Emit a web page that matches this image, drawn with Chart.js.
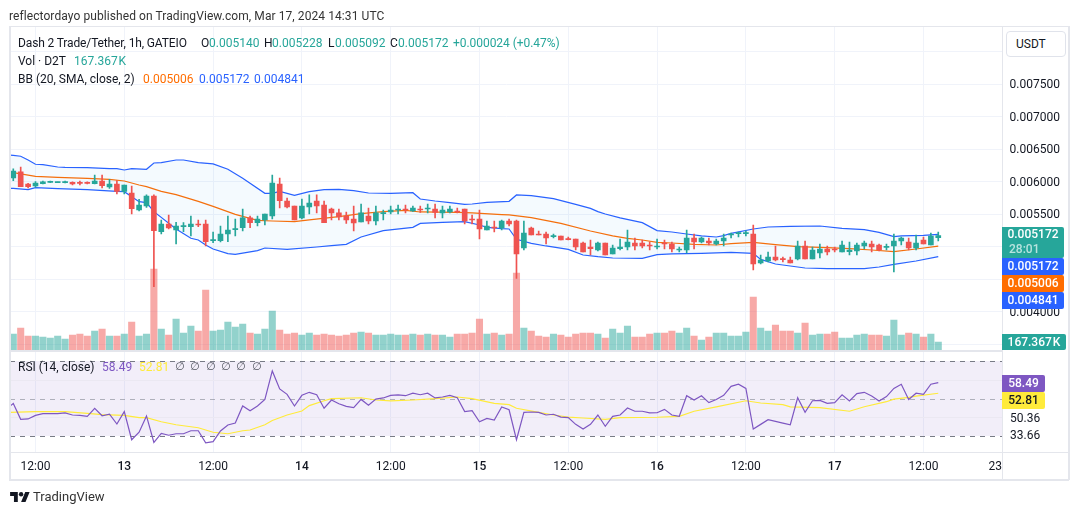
<!DOCTYPE html>
<html>
<head>
<meta charset="utf-8">
<title>Dash 2 Trade/Tether</title>
<script src="https://cdn.jsdelivr.net/npm/chart.js@4"></script>
<style>
  html, body { margin: 0; padding: 0; background: #fff; width: 1080px; height: 515px; overflow: hidden; }
  body { font-family: Roboto, sans-serif; font-size: 12px; color: #131722; position: relative; }
  canvas { position: absolute; left: 0; top: 0; }
  .t { position: absolute; white-space: nowrap; line-height: 14px; }
  .g { color: #26a69a; }
  .n { font-family: "DejaVu Sans", sans-serif; font-size: 11px; color: #50535e; }
  .line { position: absolute; background: #e4e6ec; }
  .tag { position: absolute; left: 1002px; width: 62px; color: #fff; text-align: center; border-radius: 0 2px 2px 0; font-weight: 500; }
</style>
</head>
<body>
<canvas id="chart" width="1080" height="515"></canvas>

<div class="line" style="left:9px;top:26px;width:1060px;height:1px"></div>
<div class="line" style="left:9px;top:479px;width:1060px;height:2px"></div>
<div class="line" style="left:9px;top:26px;width:2px;height:454px"></div>
<div class="line" style="left:1068px;top:26px;width:2px;height:454px"></div>
<div class="line" style="left:10px;top:350px;width:992px;height:2px"></div>
<div class="line" style="left:10px;top:452px;width:1058px;height:1px"></div>
<div class="line" style="left:1002px;top:27px;width:1px;height:452px"></div>

<div class="t" style="left:9px;top:9px;color:#333;letter-spacing:.08px">reflectordayo published on TradingView.com, Mar 17, 2024 14:31 UTC</div>

<div class="t" style="left:18px;top:36px;letter-spacing:-.13px">Dash 2 Trade/Tether, 1h, GATEIO</div>
<div class="t" style="left:201px;top:36px">O</div><div class="t g" style="left:209px;top:36px">0.005140</div>
<div class="t" style="left:264px;top:36px">H</div><div class="t g" style="left:272px;top:36px">0.005228</div>
<div class="t" style="left:328px;top:36px">L</div><div class="t g" style="left:335px;top:36px">0.005092</div>
<div class="t" style="left:390px;top:36px">C</div><div class="t g" style="left:398px;top:36px">0.005172</div>
<div class="t g" style="left:453px;top:36px;letter-spacing:-.05px">+0.000024 (+0.47%)</div>
<div class="t" style="left:18px;top:54px">Vol · D2T</div><div class="t g" style="left:74px;top:54px;word-spacing:-2px">167.367 K</div>
<div class="t" style="left:18px;top:72px">BB (20, SMA, close, 2)</div>
<div class="t" style="left:143px;top:72px;color:#ff6d00">0.005006</div>
<div class="t" style="left:199px;top:72px;color:#2962ff">0.005172</div>
<div class="t" style="left:254px;top:72px;color:#2962ff">0.004841</div>

<div class="t" style="left:18px;top:360px">RSI (14, close)</div>
<div class="t" style="left:102px;top:360px;color:#7e57c2">58.49</div>
<div class="t" style="left:139px;top:360px;color:#ffeb3b">52.81</div>
<div class="t n" style="left:175px;top:360px">∅</div><div class="t n" style="left:190px;top:360px">∅</div>
<div class="t n" style="left:206px;top:360px">∅</div><div class="t n" style="left:221px;top:360px">∅</div>
<div class="t n" style="left:236px;top:360px">∅</div><div class="t n" style="left:252px;top:360px">∅</div>

<div class="t" style="left:1006px;top:31px;width:58px;height:24px;line-height:24px;border:1px solid #e0e3eb;border-radius:4px;background:#fff;text-indent:9px">USDT</div>

<div class="tag" style="top:227px;height:31px;background:#26a69a;line-height:15px"><div>0.005172</div><div style="text-align:left;padding-left:7px;color:#b7e3de">28:01</div></div>
<div class="tag" style="top:258px;height:17px;line-height:17px;background:#2962ff">0.005172</div>
<div class="tag" style="top:275px;height:17px;line-height:17px;background:#ff6d00">0.005006</div>
<div class="tag" style="top:292px;height:17px;line-height:17px;background:#2962ff">0.004841</div>
<div class="tag" style="top:334px;height:16px;line-height:16px;background:#26a69a;width:64px;word-spacing:-2px">167.367 K</div>

<div class="tag" style="top:375px;height:17px;line-height:17px;background:#7e57c2;width:43px">58.49</div>
<div class="tag" style="top:392px;height:17px;line-height:17px;background:#ffeb3b;color:#131722;width:43px">52.81</div>
<div class="t" style="left:1010px;top:411px">50.36</div>
<div class="t" style="left:1010px;top:428px">33.66</div>

<svg style="position:absolute;left:10px;top:491px" width="20" height="11" viewBox="0 0 36 20"><path fill="#131722" d="M14 20H7V9H0V2h14v18zM28 20h-8l7.5-18h8L28 20z"/><circle fill="#131722" cx="20" cy="6" r="4"/></svg>
<div class="t" style="left:33px;top:490px;font-size:13px;color:#333">TradingView</div>

<script>
// Свечи, 1h (номер бара = индекс в массиве)
const opens = [
  0.006059,0.006152,0.005967,0.005936,0.005972,0.005992,0.005987,0.005987,0.005992,0.005982,
  0.005982,0.005972,0.006013,0.005921,0.005967,0.005854,0.005828,0.005567,0.005628,0.005782,
  0.005233,0.005351,0.005259,0.005310,0.005310,0.005346,0.005351,0.005095,0.005095,0.005197,
  0.005264,0.005295,0.005444,0.005372,0.005413,0.005474,0.005967,0.005705,0.005628,0.005444,
  0.005613,0.005705,0.005644,0.005582,0.005521,0.005474,0.005428,0.005382,0.005474,0.005397,
  0.005510,0.005536,0.005567,0.005582,0.005551,0.005582,0.005582,0.005582,0.005521,0.005536,
  0.005551,0.005582,0.005428,0.005428,0.005259,0.005305,0.005290,0.005397,0.005397,0.004982,
  0.005290,0.005197,0.005197,0.005156,0.005167,0.005120,0.005120,0.005059,0.004997,0.004951,
  0.005059,0.004890,0.004972,0.004997,0.005059,0.005059,0.005028,0.004997,0.005059,0.005043,
  0.004951,0.004951,0.005136,0.005074,0.005090,0.005043,0.005090,0.005182,0.005202,0.005202,
  0.005197,0.004751,0.004782,0.004843,0.004813,0.004797,0.004813,0.005013,0.004813,0.004905,
  0.004966,0.004961,0.004920,0.004925,0.004936,0.005013,0.005043,0.005028,0.004992,0.005013,
  0.005090,0.005074,0.004982,0.005105,0.005028,0.005140];
const highs = [
  0.006198,0.006228,0.005977,0.006003,0.006013,0.006013,0.005995,0.006013,0.005998,0.006013,
  0.005998,0.006105,0.006105,0.006039,0.006018,0.005951,0.005936,0.005731,0.005798,0.005798,
  0.005413,0.005490,0.005377,0.005372,0.005474,0.005413,0.005413,0.005228,0.005320,0.005474,
  0.005428,0.005582,0.005474,0.005474,0.005505,0.006105,0.006059,0.005751,0.005628,0.005736,
  0.005798,0.005798,0.005705,0.005597,0.005582,0.005536,0.005628,0.005659,0.005597,0.005628,
  0.005567,0.005628,0.005644,0.005644,0.005628,0.005628,0.005659,0.005659,0.005628,0.005628,
  0.005597,0.005582,0.005490,0.005567,0.005397,0.005397,0.005413,0.005428,0.005413,0.005397,
  0.005305,0.005243,0.005228,0.005197,0.005167,0.005151,0.005120,0.005074,0.005105,0.005074,
  0.005059,0.005028,0.005120,0.005259,0.005136,0.005105,0.005074,0.005120,0.005105,0.005074,
  0.004997,0.005259,0.005197,0.005151,0.005136,0.005120,0.005197,0.005213,0.005228,0.005244,
  0.005336,0.004874,0.004920,0.005013,0.004843,0.004843,0.005090,0.005090,0.004997,0.005043,
  0.005013,0.004997,0.005090,0.005074,0.005059,0.005090,0.005090,0.005043,0.005043,0.005197,
  0.005151,0.005136,0.005182,0.005151,0.005213,0.005228];
const lows = [
  0.006018,0.005926,0.005905,0.005916,0.005967,0.005987,0.005985,0.005982,0.005951,0.005951,
  0.005967,0.005967,0.005905,0.005900,0.005813,0.005813,0.005505,0.005551,0.005608,0.004387,
  0.005197,0.005274,0.005043,0.005233,0.005167,0.005310,0.005013,0.005064,0.005074,0.005079,
  0.005167,0.005244,0.005295,0.005320,0.005336,0.005428,0.005597,0.005597,0.005413,0.005428,
  0.005505,0.005521,0.005372,0.005413,0.005413,0.005361,0.005243,0.005382,0.005351,0.005336,
  0.005413,0.005505,0.005505,0.005521,0.005546,0.005531,0.005521,0.005444,0.005444,0.005521,
  0.005521,0.005351,0.005351,0.005120,0.005259,0.005228,0.005259,0.005320,0.004515,0.004951,
  0.005182,0.005182,0.005043,0.005136,0.005105,0.005105,0.004951,0.004920,0.004874,0.004936,
  0.004874,0.004890,0.004951,0.004951,0.004951,0.004982,0.004951,0.004966,0.004966,0.004920,
  0.004920,0.004905,0.004966,0.005059,0.005028,0.005028,0.005013,0.005136,0.005151,0.005167,
  0.004643,0.004736,0.004766,0.004782,0.004766,0.004751,0.004797,0.004813,0.004813,0.004828,
  0.004874,0.004920,0.004920,0.004874,0.004874,0.004966,0.004920,0.004936,0.004951,0.004613,
  0.005028,0.004951,0.004951,0.005043,0.005028,0.005092];
const closes = [
  0.006167,0.005926,0.005926,0.005982,0.005998,0.005998,0.005992,0.005998,0.005967,0.005977,
  0.005977,0.006013,0.005941,0.005967,0.005854,0.005951,0.005587,0.005644,0.005782,0.005249,
  0.005351,0.005290,0.005320,0.005320,0.005351,0.005336,0.005079,0.005105,0.005197,0.005259,
  0.005274,0.005444,0.005372,0.005428,0.005505,0.005982,0.005710,0.005613,0.005413,0.005628,
  0.005674,0.005628,0.005372,0.005521,0.005459,0.005413,0.005367,0.005521,0.005397,0.005521,
  0.005521,0.005567,0.005582,0.005567,0.005597,0.005567,0.005597,0.005531,0.005567,0.005582,
  0.005536,0.005397,0.005413,0.005274,0.005320,0.005290,0.005397,0.005351,0.004890,0.005213,
  0.005182,0.005182,0.005136,0.005167,0.005105,0.005110,0.004997,0.004920,0.004972,0.005059,
  0.004874,0.004982,0.004997,0.005074,0.005013,0.005013,0.005013,0.005013,0.005043,0.004966,
  0.004966,0.005136,0.005074,0.005136,0.005059,0.005090,0.005136,0.005197,0.005213,0.005213,
  0.004736,0.004797,0.004843,0.004797,0.004802,0.004751,0.005013,0.004813,0.004951,0.004966,
  0.004920,0.004951,0.005028,0.004951,0.005028,0.005059,0.004997,0.004951,0.005002,0.005090,
  0.005136,0.004982,0.005059,0.005043,0.005167,0.005172];
// Объём, тысячи D2T
const volumes = [
  336,462,294,294,273,252,294,231,315,336,294,399,441,294,294,336,588,294,336,1701,
  441,315,651,357,504,399,1260,399,420,588,483,546,357,336,441,819,420,336,357,315,
  357,315,336,315,294,315,357,378,357,315,315,336,315,315,336,315,336,315,315,273,
  336,336,357,651,336,357,315,336,1617,462,399,294,273,336,315,273,336,357,357,336,
  252,441,357,504,273,273,336,357,357,399,357,462,294,210,273,357,357,294,294,378,
  1113,462,399,525,399,399,357,567,315,336,336,378,252,252,315,336,315,315,294,630,
  315,357,336,273,336,167.367];

// Полосы Боллинджера: номера баров и значения в изломах линий (-1 = бар левее края)
const bbUpperBars = [-1,0,1,2,3,4,6,7,10,13,14,15,16,18,19,20,22,23,25,27,29,31,34,35,36,38,40,42,44,46,48,51,54,55,57,59,61,62,64,67,68,70,73,76,78,79,80,82,85,87,89,91,93,95,96,97,100,102,105,109,112,115,117,119,120,123,125];
const bbUpper = [0.006415,0.006408,0.006393,0.006336,0.006270,0.006264,0.006228,0.006223,0.006218,0.006203,0.006203,0.006182,0.006203,0.006193,0.006290,0.006295,0.006336,0.006336,0.006295,0.006275,0.006193,0.006054,0.005823,0.005823,0.005854,0.005792,0.005849,0.005880,0.005885,0.005864,0.005828,0.005823,0.005833,0.005736,0.005705,0.005680,0.005654,0.005659,0.005685,0.005700,0.005798,0.005787,0.005741,0.005654,0.005592,0.005541,0.005505,0.005444,0.005372,0.005249,0.005228,0.005197,0.005167,0.005151,0.005172,0.005208,0.005274,0.005305,0.005315,0.005320,0.005285,0.005264,0.005223,0.005156,0.005167,0.005177,0.005190];
const bbMiddleBars = [-1,0,3,6,10,13,15,17,18,20,22,25,27,30,33,35,38,40,44,47,50,53,55,60,62,66,67,70,74,78,81,83,85,87,89,92,95,97,100,103,106,110,113,116,119,122,125];
const bbMiddle = [0.006150,0.006141,0.006085,0.006069,0.006054,0.006039,0.006013,0.005951,0.005926,0.005854,0.005803,0.005700,0.005623,0.005500,0.005408,0.005397,0.005387,0.005413,0.005464,0.005510,0.005541,0.005562,0.005536,0.005531,0.005521,0.005495,0.005490,0.005449,0.005361,0.005243,0.005167,0.005131,0.005105,0.005069,0.005059,0.005038,0.005028,0.005049,0.005069,0.005033,0.005002,0.004987,0.004972,0.004951,0.004925,0.004966,0.005010];
const bbLowerBars = [-1,0,2,3,6,10,14,15,17,18,19,22,24,25,26,27,29,30,33,34,37,41,43,45,47,50,54,55,58,61,63,64,66,67,68,70,72,75,77,79,81,85,87,89,93,97,100,101,103,105,107,110,115,117,119,122,125];
const bbLower = [0.005900,0.005900,0.005880,0.005910,0.005895,0.005880,0.005854,0.005849,0.005695,0.005680,0.005541,0.005274,0.005131,0.005105,0.005028,0.004966,0.004895,0.004884,0.004941,0.004982,0.004961,0.004997,0.005018,0.005038,0.005151,0.005249,0.005300,0.005361,0.005377,0.005387,0.005336,0.005300,0.005279,0.005274,0.005115,0.005054,0.005013,0.004961,0.004874,0.004848,0.004828,0.004823,0.004879,0.004890,0.004900,0.004915,0.004900,0.004807,0.004736,0.004705,0.004674,0.004664,0.004664,0.004689,0.004731,0.004782,0.004850];

// RSI (14, close), с бара -1
const rsiBars = [-1,0,1,2,3,4,5,6,7,8,9,10,11,12,13,14,15,16,17,18,19,20,21,22,23,24,25,26,27,28,29,30,31,32,33,34,35,36,37,38,39,40,41,42,43,44,45,46,47,48,49,50,51,52,53,54,55,56,57,58,59,60,61,62,63,64,65,66,67,68,69,70,71,72,73,74,75,76,77,78,79,80,81,82,83,84,85,86,87,88,89,90,91,92,93,94,95,96,97,98,99,100,101,102,103,104,105,106,107,108,109,110,111,112,113,114,115,116,117,118,119,120,121,122,123,124,125];
const rsi = [
  44.0,47.4,38.9,39.1,41.0,41.9,41.9,41.9,42.3,41.2,41.0,40.5,44.8,40.8,41.6,36.4,43.0,28.0,32.0,40.7,26.6,
  31.4,30.4,31.2,31.2,32.8,32.8,26.4,27.0,32.7,35.9,36.9,46.0,43.5,46.0,49.5,64.7,55.1,52.2,46.0,51.7,
  53.3,52.0,44.8,49.2,47.2,45.8,45.1,49.5,46.4,49.7,50.3,51.7,51.9,51.5,52.9,52.0,52.8,50.3,50.8,51.7,
  50.4,43.0,43.5,37.6,39.4,38.5,45.5,44.0,28.0,42.6,42.8,42.6,41.2,41.6,40.1,39.8,36.2,33.7,36.2,41.2,
  35.2,40.5,41.2,44.9,43.2,43.2,42.3,42.4,44.2,41.2,40.5,51.5,49.2,51.5,47.8,49.5,51.7,56.5,57.6,55.4,
  33.7,36.2,38.7,37.8,36.9,36.0,50.4,42.6,48.8,49.0,47.4,47.8,52.0,48.7,52.6,53.3,51.3,48.7,51.0,55.4,
  57.6,49.5,52.8,52.2,57.6,58.49];
const rsiMaBars = [-1,3,7,10,12,15,17,18,20,22,25,27,29,31,32,34,35,37,39,40,42,43,47,49,51,54,57,60,62,65,67,68,71,73,75,77,80,82,87,90,92,95,99,101,104,105,109,113,115,118,119,121,122,125];
const rsiMa = [42.6,43.0,43.0,42.1,41.4,41.0,39.8,39.8,37.6,36.0,34.4,32.0,31.2,32.8,33.2,36.0,38.3,41.2,43.3,46.2,48.8,49.9,50.4,49.2,48.7,49.2,49.9,50.8,49.9,47.4,46.7,44.8,42.6,41.2,40.1,39.6,38.9,39.8,40.0,40.5,43.2,45.5,48.8,47.6,46.7,45.5,45.1,43.2,45.6,48.3,49.7,50.6,51.3,52.81];
const rsiLevels = [70, 50, 30];
const rsiGrid = [60, 40];

// Подписи осей
const priceTicks = [0.0035,0.004,0.0045,0.005,0.0055,0.006,0.0065,0.007,0.0075,0.008];
const timeTickBars = [3,15,27,39,51,63,75,87,99,111,123,132.7];
const timeTickLabels = ["12:00","13","12:00","14","12:00","15","12:00","16","12:00","17","12:00","23"];

const UP = "#26a69a";
const DOWN = "#ef5350";
const barColors = (alpha) => closes.map((c, i) => (c >= opens[i] ? UP : DOWN) + alpha);
const points = (bars, vals) => bars.map((b, i) => ({ x: b, y: vals[i] }));
const allBars = opens.map((_, i) => i);

function lineSet(bars, vals, color, axis, order, extra) {
  return Object.assign({
    type: "line",
    data: points(bars, vals),
    yAxisID: axis,
    borderColor: color,
    borderWidth: 1.2,
    pointRadius: 0,
    tension: 0,
    fill: false,
    order: order,
  }, extra);
}

// Фон RSI и его уровни
const rsiBand = {
  id: "rsiBand",
  beforeDatasetsDraw(chart) {
    const { ctx, chartArea: a, scales } = chart;
    const y = scales.yRsi;
    ctx.save();
    ctx.fillStyle = "rgba(126,87,194,0.1)";
    ctx.fillRect(a.left, y.getPixelForValue(70), a.width, y.getPixelForValue(30) - y.getPixelForValue(70));
    ctx.strokeStyle = "#ebe8f2";
    ctx.lineWidth = 1;
    rsiGrid.forEach((v) => {
      const p = Math.round(y.getPixelForValue(v)) + 0.5;
      ctx.beginPath(); ctx.moveTo(a.left, p); ctx.lineTo(a.right, p); ctx.stroke();
    });
    ctx.setLineDash([5, 5]);
    rsiLevels.forEach((v) => {
      const p = Math.round(y.getPixelForValue(v)) + 0.5;
      ctx.strokeStyle = v === 50 ? "rgba(120,123,134,0.55)" : "#787b86";
      ctx.beginPath(); ctx.moveTo(a.left, p); ctx.lineTo(a.right, p); ctx.stroke();
    });
    ctx.restore();
  },
};

new Chart(document.getElementById("chart"), {
  type: "bar",
  data: {
    datasets: [
      lineSet(bbUpperBars, bbUpper, "#2962ff", "y", 3, { fill: "+1", backgroundColor: "rgba(33,150,243,0.05)" }),
      lineSet(bbLowerBars, bbLower, "#2962ff", "y", 3),
      lineSet(bbMiddleBars, bbMiddle, "#ff6d00", "y", 3),
      {
        data: points(allBars, volumes),
        yAxisID: "yVol",
        backgroundColor: barColors("80"),
        barThickness: 6.4,
        grouped: false,
        order: 4,
      },
      {
        data: points(allBars, lows.map((l, i) => [l, highs[i]])),
        yAxisID: "y",
        backgroundColor: barColors(""),
        barThickness: 1,
        grouped: false,
        order: 2,
      },
      {
        data: points(allBars, opens.map((o, i) => [o, closes[i]])),
        yAxisID: "y",
        backgroundColor: barColors(""),
        barThickness: 5,
        minBarLength: 1,
        grouped: false,
        order: 1,
      },
      lineSet(rsiMaBars, rsiMa, "#ffeb3b", "yRsi", 1),
      lineSet(rsiBars, rsi, "#7e57c2", "yRsi", 0),
    ],
  },
  options: {
    responsive: false,
    animation: false,
    devicePixelRatio: 1,
    layout: { padding: { left: 10, top: 27, right: 0, bottom: 0 } },
    plugins: { legend: { display: false }, tooltip: { enabled: false } },
    scales: {
      x: {
        type: "linear",
        min: -0.445,
        max: 133.68,
        offset: false,
        grid: {
          offset: false,
          color: (c) => (c.index === timeTickBars.length - 1 ? "transparent" : "#f0f3fa"),
          drawTicks: false,
        },
        border: { display: false },
        afterBuildTicks(s) { s.ticks = timeTickBars.map((v) => ({ value: v })); },
        afterFit(s) { s.height = 63; },
        ticks: {
          autoSkip: false,
          maxRotation: 0,
          padding: 8,
          color: "#131722",
          font: (c) => ({ family: "Roboto", size: 12, weight: c.index % 2 === 1 && c.index < 10 ? "500" : "400" }),
          callback: (v, i) => timeTickLabels[i],
        },
      },
      y: {
        position: "right",
        min: 0.001843,
        max: 0.008382,
        grid: { color: "#f0f3fa", drawTicks: false },
        border: { display: false },
        afterBuildTicks(s) { s.ticks = priceTicks.map((v) => ({ value: v })); },
        afterFit(s) { s.width = 77.5; },
        ticks: {
          padding: 7,
          labelOffset: 1,
          color: "#131722",
          font: { family: "Roboto", size: 12 },
          callback: (v) => v.toFixed(6),
        },
      },
      yVol: { display: false, min: -2142, max: 6783 },
      yRsi: { display: false, min: 21.47, max: 248.13 },
    },
  },
  plugins: [rsiBand],
});
</script>
</body>
</html>
